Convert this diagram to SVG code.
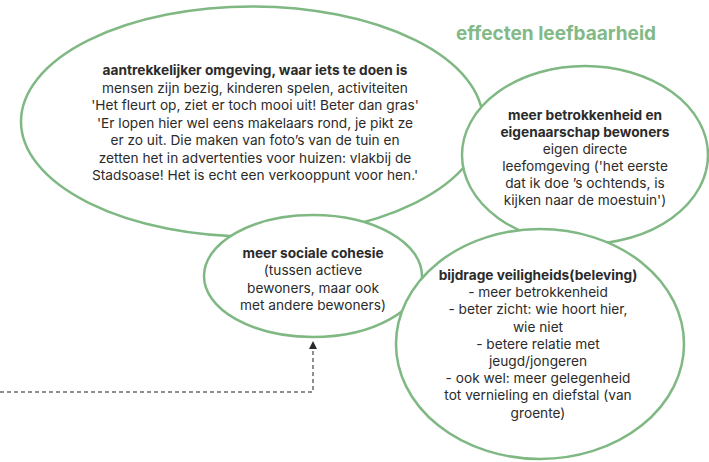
<svg xmlns="http://www.w3.org/2000/svg" width="709" height="462" viewBox="0 0 709 462">
<defs>
<style>
.bub{fill:#ffffff;stroke:#7fb883;stroke-width:2.5}
.t{font-family:Inter,"Liberation Sans",sans-serif;font-size:13.7px;fill:#2b2b2b;text-anchor:middle}
.b{font-weight:bold}
.title{font-family:Inter,"Liberation Sans",sans-serif;font-size:19px;font-weight:bold;fill:#82b987}
.con{fill:none;stroke:#6b6b6b;stroke-width:1.5;stroke-dasharray:4 3}
</style>
</defs>
<text class="title" x="456" y="40">effecten leefbaarheid</text>
<g id="connectors">
<path class="con" d="M0,392 H313 V350"/>
<path d="M313,341 L309,349 L317,349 Z" fill="#2b2b2b"/>
</g>
<g id="node-omgeving">
<ellipse class="bub" cx="252" cy="121.5" rx="231" ry="115"/>
<text class="t" x="255" y="75"><tspan class="b">aantrekkelijker omgeving, waar iets te doen is</tspan><tspan x="255" dy="17.5">mensen zijn bezig, kinderen spelen, activiteiten</tspan><tspan x="255" dy="17.5">'Het fleurt op, ziet er toch mooi uit! Beter dan gras'</tspan><tspan x="255" dy="17.5">'Er lopen hier wel eens makelaars rond, je pikt ze</tspan><tspan x="255" dy="17.5">er zo uit. Die maken van foto’s van de tuin en</tspan><tspan x="255" dy="17.5">zetten het in advertenties voor huizen: vlakbij de</tspan><tspan x="255" dy="17.5">Stadsoase! Het is echt een verkooppunt voor hen.'</tspan></text>
</g>
<g id="node-betrokkenheid">
<ellipse class="bub" cx="585" cy="155" rx="123" ry="89"/>
<text class="t" x="585" y="120"><tspan class="b">meer betrokkenheid en</tspan><tspan class="b" x="585" dy="17">eigenaarschap bewoners</tspan><tspan x="585" dy="17">eigen directe</tspan><tspan x="585" dy="17">leefomgeving ('het eerste</tspan><tspan x="585" dy="17">dat ik doe ’s ochtends, is</tspan><tspan x="585" dy="17">kijken naar de moestuin')</tspan></text>
</g>
<g id="node-cohesie">
<ellipse class="bub" cx="313" cy="276" rx="109" ry="61"/>
<text class="t" x="313" y="258"><tspan class="b">meer sociale cohesie</tspan><tspan x="313" dy="17.3">(tussen actieve</tspan><tspan x="313" dy="17.3">bewoners, maar ook</tspan><tspan x="313" dy="17.3">met andere bewoners)</tspan></text>
</g>
<g id="node-veiligheid">
<ellipse class="bub" cx="540" cy="344" rx="144" ry="115"/>
<text class="t" x="538" y="280"><tspan class="b">bijdrage veiligheids(beleving)</tspan><tspan x="538" dy="17.2">- meer betrokkenheid</tspan><tspan x="538" dy="17.2">- beter zicht: wie hoort hier,</tspan><tspan x="538" dy="17.2">wie niet</tspan><tspan x="538" dy="17.2">- betere relatie met</tspan><tspan x="538" dy="17.2">jeugd/jongeren</tspan><tspan x="538" dy="17.2">- ook wel: meer gelegenheid</tspan><tspan x="538" dy="17.2">tot vernieling en diefstal (van</tspan><tspan x="538" dy="17.2">groente)</tspan></text>
</g>
</svg>
